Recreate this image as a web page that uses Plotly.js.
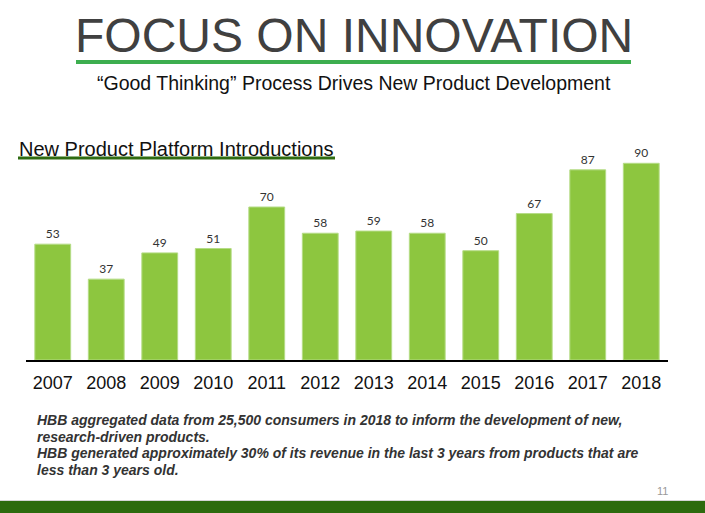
<!DOCTYPE html>
<html>
<head>
<meta charset="utf-8">
<script src="https://cdn.plot.ly/plotly-3.0.1.min.js"></script>
<style>html,body{margin:0;padding:0;background:#fff;}#chart{width:705px;height:513px;}</style>
</head>
<body>
<div id="chart"></div>
<script>
const years = ['2007','2008','2009','2010','2011','2012','2013','2014','2015','2016','2017','2018'];
const introductions = [53, 37, 49, 51, 70, 58, 59, 58, 50, 67, 87, 90];
const pageTitle = 'FOCUS ON INNOVATION';
const pageSubtitle = '\u201cGood Thinking\u201d Process Drives New Product Development';
const chartTitle = 'New Product Platform Introductions';
const footnotes = [
  'HBB aggregated data from 25,500 consumers in 2018 to inform the development of new,',
  'research-driven products.',
  'HBB generated approximately 30% of its revenue in the last 3 years from products that are',
  'less than 3 years old.'
];
const pageNumber = '11';

const W = 705, H = 513;
const M = {l: 26, r: 37, t: 141, b: 153};
const pw = W - M.l - M.r, ph = H - M.t - M.b;
const px = x => (x - M.l) / pw;
const py = y => 1 - (y - M.t) / ph;

const data = [{
  type: 'bar',
  x: years,
  y: introductions,
  text: introductions.map(String),
  textposition: 'outside',
  textfont: {family: 'Lato, "DejaVu Sans", sans-serif', size: 12, color: '#333333'},
  cliponaxis: false,
  marker: {color: '#8dc63f', line: {color: '#b5dc86', width: 1}},
  hoverinfo: 'none'
}];

const footLineY = [420, 436.5, 453, 469.5];
const footAnnots = footnotes.map((t, i) => ({
  text: '<b><i>' + t + '</i></b>', xref: 'paper', yref: 'paper', x: px(35), y: py(footLineY[i]),
  xanchor: 'left', yanchor: 'middle', align: 'left', showarrow: false,
  font: {family: '"Liberation Sans", Arial, sans-serif', size: 14, color: '#333333'}
}));

const layout = {
  width: W, height: H,
  margin: M,
  paper_bgcolor: '#ffffff',
  plot_bgcolor: '#ffffff',
  showlegend: false,
  bargap: 0.33,
  xaxis: {
    type: 'category',
    showline: true, linecolor: '#000000', linewidth: 1.5,
    ticks: '', showgrid: false, zeroline: false,
    ticklabelstandoff: 6,
    tickfont: {family: '"Liberation Sans", Arial, sans-serif', size: 18, color: '#111111'}
  },
  yaxis: {
    range: [0, 100.2], visible: false, showgrid: false, zeroline: false
  },
  shapes: [
    {type: 'line', xref: 'paper', yref: 'paper', x0: px(76), x1: px(631), y0: py(62), y1: py(62),
     line: {color: '#3dae4f', width: 4}},
    {type: 'line', xref: 'paper', yref: 'paper', x0: px(18), x1: px(335), y0: py(158), y1: py(158),
     line: {color: '#2e6b10', width: 3}},
    {type: 'rect', xref: 'paper', yref: 'paper', x0: px(0), x1: px(705), y0: py(501), y1: py(514),
     line: {width: 0}, fillcolor: '#2d6b0e'},
    {type: 'line', xref: 'paper', yref: 'paper', x0: px(0), x1: px(705), y0: py(500.5), y1: py(500.5),
     line: {color: '#d5d5d5', width: 1}}
  ],
  annotations: [
    {text: pageTitle, xref: 'paper', yref: 'paper', x: px(354), y: py(35), xanchor: 'center', yanchor: 'middle',
     showarrow: false, font: {family: '"Liberation Sans", Arial, sans-serif', size: 48, color: '#404040'}},
    {text: pageSubtitle, xref: 'paper', yref: 'paper', x: px(354), y: py(83), xanchor: 'center', yanchor: 'middle',
     showarrow: false, font: {family: '"Liberation Sans", Arial, sans-serif', size: 19.5, color: '#111111'}},
    {text: chartTitle, xref: 'paper', yref: 'paper', x: px(17), y: py(149), xanchor: 'left', yanchor: 'middle',
     showarrow: false, font: {family: '"Liberation Sans", Arial, sans-serif', size: 20, color: '#111111'}},
    ...footAnnots,
    {text: pageNumber, xref: 'paper', yref: 'paper', x: px(670), y: py(491), xanchor: 'right', yanchor: 'middle',
     showarrow: false, font: {family: '"Liberation Sans", Arial, sans-serif', size: 11, color: '#999999'}}
  ]
};

Plotly.newPlot('chart', data, layout, {staticPlot: true, displayModeBar: false});
</script>
</body>
</html>
